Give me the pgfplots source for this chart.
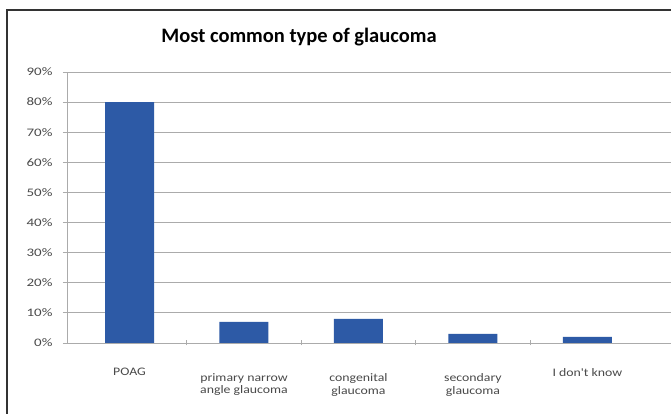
\documentclass[border=0pt]{standalone}
\usepackage{pgfplots}
\pgfplotsset{compat=1.18}
\usepackage{fontspec}
\setmainfont{Carlito}
\newfontfamily\lbl{Carlito}[FakeStretch=1.2]
\newfontfamily\lbly{Carlito}[FakeStretch=1.3]
\definecolor{barblue}{HTML}{2D5AA6}
\definecolor{txt}{HTML}{4A4A4A}
\definecolor{gridgray}{HTML}{ABABAB}
\begin{document}
\begin{tikzpicture}[x=1pt,y=1pt]
\useasboundingbox (0,0) rectangle (671,414);
\clip (0,0) rectangle (671,414);
\fill[white] (0,0) rectangle (671,414);
\draw[line width=2pt, black!80] (7,-10) -- (7,404) -- (690,404);
\node[font=\bfseries\fontsize{20.5}{24}\selectfont, text=black] at (299,377) {Most common type of glaucoma};
\begin{axis}[
  at={(67pt,71pt)}, anchor=south west,
  scale only axis, width=604pt, height=271pt,
  ymin=0, ymax=90, xmin=-0.546, xmax=4.73,
  ybar, bar width=49pt,
  axis x line*=bottom, axis y line*=left,
  axis line style={draw=gridgray, line width=0.8pt},
  ytick={0,10,...,90},
  yticklabel={\pgfmathprintnumber{\tick}\%},
  /pgf/number format/assume math mode=true,
  ymajorgrids, xmajorgrids=false,
  grid style={draw=gridgray, line width=0.8pt},
  y tick label style={font=\lbly\fontsize{11.5}{13}\selectfont, text=txt, anchor=east, xshift=-7pt},
  tick align=outside,
  major tick length=4pt,
  tick style={draw=gridgray, line width=0.8pt},
  ytick pos=left, xtick pos=bottom,
  xtick={0,1,2,3,4},
  major x tick style={draw=none},
  extra x ticks={0.5,1.5,2.5,3.5},
  extra x tick labels={},
  extra x tick style={major x tick style={draw=gridgray, line width=0.8pt}, tick align=center, major tick length=5pt},
  xticklabels={\raisebox{5pt}[\height][\depth]{POAG}, primary narrow\\angle glaucoma, congenital\\glaucoma, secondary\\glaucoma, \raisebox{5pt}[\height][\depth]{I don't know}},
  x tick label style={font=\lbl\fontsize{11.5}{12.5}\selectfont, text=txt, align=center, anchor=north, yshift=-23pt},
]
\addplot[fill=barblue, draw=none] coordinates {(0,80) (1,7) (2,8) (3,3) (4,2)};
\end{axis}
\end{tikzpicture}
\end{document}
